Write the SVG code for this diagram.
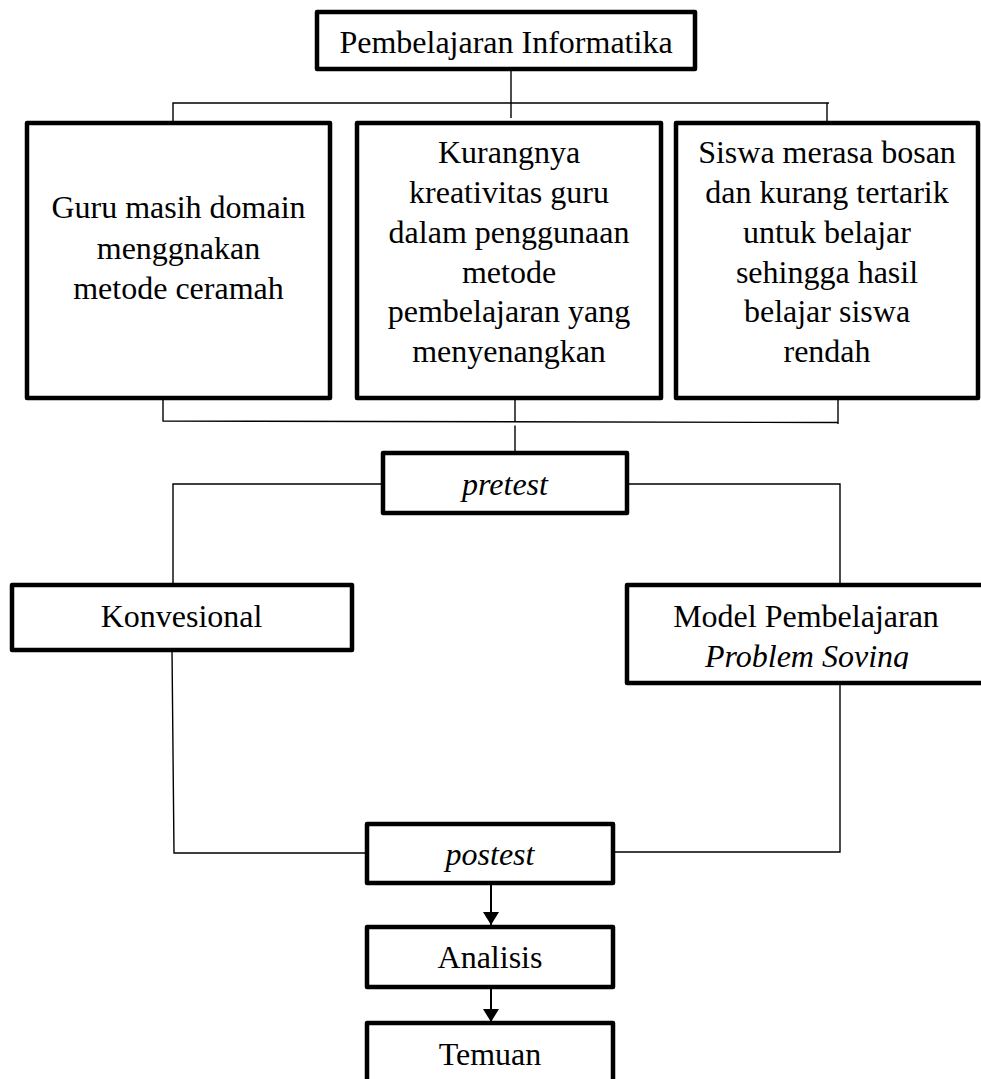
<svg xmlns="http://www.w3.org/2000/svg" width="981" height="1079" viewBox="0 0 981 1079">
<style>
.box{fill:#fff;stroke:#000;stroke-width:4.5;stroke-linejoin:round}
.ln{fill:none;stroke:#000;stroke-width:1.4}
.ar{fill:none;stroke:#000;stroke-width:2}
text{font-family:"Liberation Serif","Times New Roman",serif;font-size:32px;fill:#000;text-anchor:middle}
.it{font-style:italic}
</style>
<defs>
<marker id="ah" viewBox="0 0 13 16" refX="13" refY="8" markerWidth="13" markerHeight="16" markerUnits="userSpaceOnUse" orient="auto">
<path d="M0,0 L13,8 L0,16 z" fill="#000"/>
</marker>
<clipPath id="mclip"><rect x="620" y="580" width="370" height="89"/></clipPath>
</defs>
<rect width="981" height="1079" fill="#fff"/>
<g id="connectors">
<line class="ln" x1="511" y1="69" x2="511" y2="118"/>
<polyline class="ln" points="173,121 173,103 829,103"/>
<line class="ln" x1="827" y1="103" x2="827" y2="121"/>
<polyline class="ln" points="163,398 163,421 838,422.5"/>
<line class="ln" x1="838" y1="398" x2="838" y2="424"/>
<line class="ln" x1="515" y1="398" x2="515" y2="422"/>
<line class="ln" x1="515" y1="425.5" x2="515" y2="453"/>
<polyline class="ln" points="383,484 173,484 173,585"/>
<polyline class="ln" points="627,484 840,484 840,585"/>
<polyline class="ln" points="172,650 174,853 367,853"/>
<polyline class="ln" points="840,683 840,852 613,852"/>
<line class="ar" x1="491" y1="883" x2="491" y2="925" marker-end="url(#ah)"/>
<line class="ar" x1="491" y1="987" x2="491" y2="1022" marker-end="url(#ah)"/>
</g>
<g id="n-top">
<rect class="box" x="317" y="12" width="378" height="57"/>
<text x="506" y="53">Pembelajaran Informatika</text>
</g>
<g id="n-guru">
<rect class="box" x="27" y="123" width="303" height="275"/>
<text x="178.5" y="218">Guru masih domain</text>
<text x="178.5" y="258.5">menggnakan</text>
<text x="178.5" y="299">metode ceramah</text>
</g>
<g id="n-kreativitas">
<rect class="box" x="357" y="123" width="304" height="275"/>
<text x="509" y="163">Kurangnya</text>
<text x="509" y="203">kreativitas guru</text>
<text x="509" y="243">dalam penggunaan</text>
<text x="509" y="282.5">metode</text>
<text x="509" y="322">pembelajaran yang</text>
<text x="509" y="362">menyenangkan</text>
</g>
<g id="n-siswa">
<rect class="box" x="676" y="123" width="302" height="275"/>
<text x="827" y="163">Siswa merasa bosan</text>
<text x="827" y="203">dan kurang tertarik</text>
<text x="827" y="243">untuk belajar</text>
<text x="827" y="282.5">sehingga hasil</text>
<text x="827" y="322">belajar siswa</text>
<text x="827" y="362">rendah</text>
</g>
<g id="n-pretest">
<rect class="box" x="383" y="453" width="244" height="60"/>
<text class="it" x="505" y="495">pretest</text>
</g>
<g id="n-konvesional">
<rect class="box" x="12" y="585" width="340" height="65"/>
<text x="181.5" y="627">Konvesional</text>
</g>
<g id="n-model">
<rect class="box" x="627" y="585" width="359" height="98"/>
<text x="806" y="627">Model Pembelajaran</text>
<text class="it" x="807" y="667" clip-path="url(#mclip)">Problem Soving</text>
</g>
<g id="n-postest">
<rect class="box" x="367" y="824" width="246" height="59"/>
<text class="it" x="490" y="865">postest</text>
</g>
<g id="n-analisis">
<rect class="box" x="367" y="927" width="246" height="60"/>
<text x="490" y="968">Analisis</text>
</g>
<g id="n-temuan">
<rect class="box" x="367" y="1023" width="246" height="70"/>
<text x="490" y="1065">Temuan</text>
</g>
</svg>
